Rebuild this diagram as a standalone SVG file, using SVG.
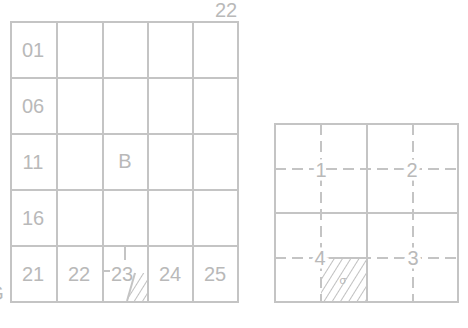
<svg xmlns="http://www.w3.org/2000/svg" width="468" height="328" viewBox="0 0 468 328">
<style>
.g{fill:none;stroke:#c4c4c4;stroke-width:2}
.d{fill:none;stroke:#c4c4c4;stroke-width:2;stroke-dasharray:11 6}
.t{font-family:"Liberation Sans",Arial,sans-serif;font-size:20px;fill:#b9b9b9;text-anchor:middle}
.h{stroke:#fff;stroke-width:7;paint-order:stroke}
</style>
<defs>
<pattern id="hatch" width="7" height="7" patternUnits="userSpaceOnUse" patternTransform="rotate(32)">
<line x1="0" y1="0" x2="0" y2="7" stroke="#c0c0c0" stroke-width="2"/>
</pattern>
</defs>
<rect width="468" height="328" fill="#fff"/>
<g id="grid-left">
<rect class="g" x="11" y="22" width="227" height="280"/>
<path class="g" d="M57 22V302M103 22V302M148 22V302M193 22V302M11 78H238M11 134H238M11 190H238M11 246H238"/>
<path class="g" d="M125 247V260M103 271H110"/>
<polygon points="135,273 147,273 147,301 127,301" fill="url(#hatch)"/>
<path class="g" stroke-width="1.5" d="M135 273L127 301"/>
<text class="t" x="226" y="17">22</text>
<text class="t" x="-4" y="300">G</text>
<text class="t" x="33" y="57">01</text>
<text class="t" x="33" y="113">06</text>
<text class="t" x="33" y="169">11</text>
<text class="t" x="33" y="225">16</text>
<text class="t" x="125" y="168">B</text>
<text class="t" x="33" y="281">21</text>
<text class="t" x="79" y="281">22</text>
<text class="t" x="122" y="281">23</text>
<text class="t" x="170" y="281">24</text>
<text class="t" x="215" y="281">25</text>
</g>
<g id="grid-right">
<polygon points="333,257 366,257 366,301 321,301 321,270" fill="url(#hatch)"/>
<path class="d" d="M321 124V302M413 124V302M275 169H458M275 258H458"/>
<rect class="g" x="275" y="124" width="183" height="178"/>
<path class="g" d="M367 124V302M275 213H458M321 258H367"/>
<text class="t h" x="321" y="177">1</text>
<text class="t h" x="412" y="177">2</text>
<text class="t h" x="320" y="265">4</text>
<text class="t h" x="413" y="265">3</text>
<text class="t" style="font-size:11px" x="343" y="284">σ</text>
</g>
</svg>
